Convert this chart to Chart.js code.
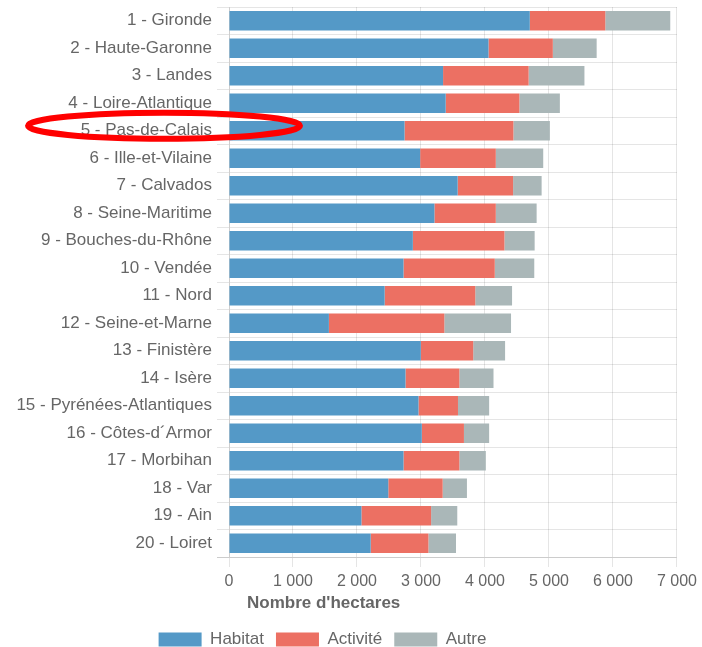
<!DOCTYPE html>
<html>
<head>
<meta charset="utf-8">
<script src="https://cdn.jsdelivr.net/npm/chart.js@4/dist/chart.umd.min.js"></script>
<style>
  html, body { margin: 0; padding: 0; background: #fff; }
  #wrap { width: 702px; height: 647px; }
</style>
</head>
<body>
<div id="wrap"><canvas id="chart" width="702" height="647"></canvas></div>
<script>
// Departements, ranked by total
const departements = [
  "1 - Gironde", "2 - Haute-Garonne", "3 - Landes", "4 - Loire-Atlantique",
  "5 - Pas-de-Calais", "6 - Ille-et-Vilaine", "7 - Calvados", "8 - Seine-Maritime",
  "9 - Bouches-du-Rhône", "10 - Vendée", "11 - Nord", "12 - Seine-et-Marne",
  "13 - Finistère", "14 - Isère", "15 - Pyrénées-Atlantiques", "16 - Côtes-d´Armor",
  "17 - Morbihan", "18 - Var", "19 - Ain", "20 - Loiret"
];

// hectares per use
const habitat  = [4700, 4055, 3345, 3386, 2743, 2987, 3573, 3210, 2873, 2727,
                  2432, 1561, 2997, 2758, 2961, 3013, 2727, 2489, 2069, 2214];
const activite = [1180, 1005, 1337, 1151, 1701, 1182,  866,  959, 1431, 1426,
                  1416, 1804,  819,  841,  617,  658,  872,  850, 1089,  902];
const autre    = [1015,  685,  872,  633,  570,  741,  446,  638,  472,  617,
                   575, 1042,  498,  534,  487,  394,  414,  379,  409,  431];

const seriesNames = ["Habitat", "Activité", "Autre"];
const xTicksMax = 7000;
const xStep = 1000;
const highlighted = 4; // Pas-de-Calais

const grey = "#666";
const gridColor = "rgba(0, 0, 0, 0.1)";
const fontFamily = "'Liberation Sans', Arial, sans-serif";

function frNumber(v) {
  return String(v).replace(/\B(?=(\d{3})+(?!\d))/g, "\u00a0");
}

// legend + axis title sit left of centre in the original, nudge them
const nudge = {
  id: "nudge",
  afterLayout(chart) {
    const lg = chart.legend;
    lg.left -= 17; lg.right -= 17;
    lg.top += 11; lg.bottom += 11;
  },
  // axis title is drawn with the grid, before the bars: shift it only there
  beforeDraw(chart) {
    chart.scales.x.left += 18;
  },
  beforeDatasetsDraw(chart) {
    chart.scales.x.left -= 18;
  }
};

// red ring drawn around the highlighted row
const ring = {
  id: "ring",
  afterDraw(chart) {
    const ctx = chart.ctx;
    const cy = chart.scales.y.getPixelForValue(highlighted) - 5;
    ctx.save();
    ctx.beginPath();
    ctx.ellipse(164, cy, 136, 13, 0, 0, Math.PI * 2);
    ctx.lineWidth = 6;
    ctx.strokeStyle = "#f00";
    ctx.stroke();
    ctx.restore();
  }
};

new Chart(document.getElementById("chart"), {
  type: "bar",
  data: {
    labels: departements,
    datasets: [
      { label: seriesNames[0], data: habitat,  backgroundColor: "#5499c7" },
      { label: seriesNames[1], data: activite, backgroundColor: "#ec7063" },
      { label: seriesNames[2], data: autre,    backgroundColor: "#aab7b8" }
    ]
  },
  options: {
    indexAxis: "y",
    responsive: false,
    animation: false,
    categoryPercentage: 1,
    barPercentage: 0.71,
    layout: { padding: { top: 7, right: 23, bottom: 0, left: 0 } },
    scales: {
      x: {
        stacked: true,
        min: 0,
        max: xTicksMax,
        grid: { color: gridColor, tickLength: 10 },
        border: { display: false },
        ticks: {
          stepSize: xStep,
          padding: 5,
          color: grey,
          font: { family: fontFamily, size: 16 },
          callback: v => frNumber(v)
        },
        title: {
          display: true,
          text: "Nombre d'hectares",
          align: "start",
          color: grey,
          font: { family: fontFamily, size: 17, weight: "bold" },
          padding: { top: 0, bottom: -6 }
        },
        afterFit: s => { s.height = 51; }
      },
      y: {
        stacked: true,
        grid: {
          color: c => c.type === "tick" ? gridColor : "#ccc",
          tickLength: 12
        },
        border: { color: gridColor },
        ticks: {
          padding: 5,
          color: grey,
          font: { family: fontFamily, size: 17 }
        },
        afterFit: s => { s.width = 229; s.paddingTop = 0; s.paddingBottom = 0; }
      }
    },
    plugins: {
      legend: {
        position: "bottom",
        labels: {
          boxWidth: 43,
          boxHeight: 14,
          padding: 12,
          color: grey,
          font: { family: fontFamily, size: 17 }
        }
      },
      tooltip: { enabled: false }
    }
  },
  plugins: [nudge, ring]
});
</script>
</body>
</html>
